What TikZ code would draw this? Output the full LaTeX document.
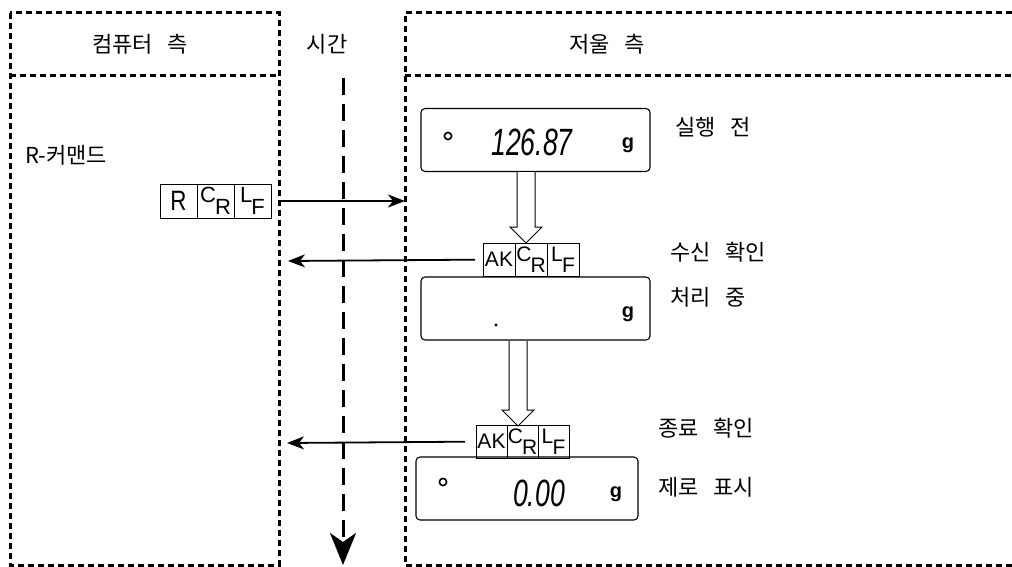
\documentclass[tikz,border=0pt]{standalone}
\usepackage{fontspec}
\usepackage{graphicx}
\setmainfont{Noto Sans CJK KR}[WordSpace=3]
\newfontfamily\arialfont{Liberation Sans}
\usetikzlibrary{arrows.meta,positioning}
\newcommand{\updown}[2]{\raisebox{.32em}{#1}\hspace{-.04em}\raisebox{-.2em}{#2}}
\newcommand{\segnum}[1]{\scalebox{0.7}[1]{\arialfont\itshape #1}}
\newcommand{\hollowdown}[3]{\draw[line width=1pt,fill=white] (#1,#2) -- ++(0,#3) -- ++(-7,0) -- ++(16,16) -- ++(16,-16) -- ++(-7,0) -- ++(0,-#3);}

\begin{document}
\begin{tikzpicture}[x=1pt,y=-1pt,
    zone/.style={line width=3pt,dash pattern=on 6pt off 4pt},
    label/.style={font=\fontsize{22}{26}\selectfont,inner sep=0pt},
    cell/.style={draw,line width=0.9pt,minimum height=34pt,minimum width=37pt,inner sep=0pt,outer sep=0pt,font=\arialfont\fontsize{22}{22}\selectfont},
    akcell/.style={cell,minimum height=33pt,minimum width=32pt,font=\arialfont\fontsize{21}{21}\selectfont},
    display/.style={draw,line width=1.1pt,rounded corners=4pt,minimum width=229pt,minimum height=63pt,inner sep=0pt},
    msg/.style={line width=1.8pt,-{Stealth[length=17pt,width=13pt,inset=5pt]}},
    digits/.style={font=\fontsize{38}{38}\selectfont,inner sep=0pt},
    unit/.style={font=\arialfont\bfseries\fontsize{20}{20}\selectfont,inner sep=0pt}]
    \useasboundingbox (0,0) rectangle (1012,567);

    \draw[zone] (10,13) rectangle (279,565);
    \draw[zone] (10,76) -- (279,76);
    \draw[zone] (1012,13) -- (405,13) -- (405,565) -- (1012,565);
    \draw[zone] (405,76) -- (1012,76);

    \node[label] (pcside) at (140,44) {컴퓨터 측};
    \node[label] (time) at (327,44) {시간};
    \node[label] (scaleside) at (607,44) {저울 측};

    \coordinate (tstart) at (343,78);
    \coordinate (tend) at (343,565);
    \draw[line width=3pt,dash pattern=on 17pt off 9pt,-{Stealth[length=32pt,width=26pt,inset=9pt]}] (tstart) -- (tend);

    \node[label,anchor=west] (cmd) at (25,155) {R-커맨드};
    \node[cell] (r1) at (178.5,201) {\scalebox{0.8}[1]{\fontsize{28}{28}\selectfont R}};
    \node[cell,right=0pt of r1] (r2) {\updown{C}{R}};
    \node[cell,right=0pt of r2] (r3) {\updown{L}{F}};
    \coordinate (scalein) at (405,201);
    \draw[msg,shorten <=10pt] (r3) -- (scalein);

    \node[display] (disp1) at (535.5,140) {};
    \draw[line width=1.6pt] (448,136) circle (3.6);
    \node[digits] (w1) at (532,142) {\segnum{126.87}};
    \node[unit] (g1) at (628,145) {g};
    \node[label,anchor=west] (before) at (675,127) {실행 전};

    \hollowdown{517}{172}{55}

    \node[akcell] (ak1) at (499,259.5) {AK};
    \node[akcell,right=0pt of ak1] (ak2) {\updown{C}{R}};
    \node[akcell,right=0pt of ak2] (ak3) {\updown{L}{F}};
    \coordinate (pcin1) at (288,261);
    \draw[msg,shorten <=8pt] (ak1) -- (pcin1);
    \node[label,anchor=west] (recv) at (670,252) {수신 확인};

    \node[display] (disp2) at (535.5,308.5) {};
    \fill (496,325) circle (1.6);
    \node[unit] (g2) at (628,314) {g};
    \node[label,anchor=west] (busy) at (670,297) {처리 중};

    \hollowdown{509}{341}{69}

    \node[akcell,minimum width=31pt] (ak4) at (491.5,441.5) {AK};
    \node[akcell,minimum width=31pt,right=0pt of ak4] (ak5) {\updown{C}{R}};
    \node[akcell,minimum width=31pt,right=0pt of ak5] (ak6) {\updown{L}{F}};
    \coordinate (pcin2) at (287,443);
    \draw[msg,shorten <=11pt] (ak4) -- (pcin2);
    \node[label,anchor=west] (done) at (658,428) {종료 확인};

    \node[display,minimum width=222pt] (disp3) at (527,488.5) {};
    \draw[line width=1.6pt] (443,482) circle (3.6);
    \node[digits] (w3) at (539,493) {\segnum{0.00}};
    \node[unit] (g3) at (616,494) {g};
    \node[label,anchor=west] (zero) at (658,487) {제로 표시};
\end{tikzpicture}
\end{document}
